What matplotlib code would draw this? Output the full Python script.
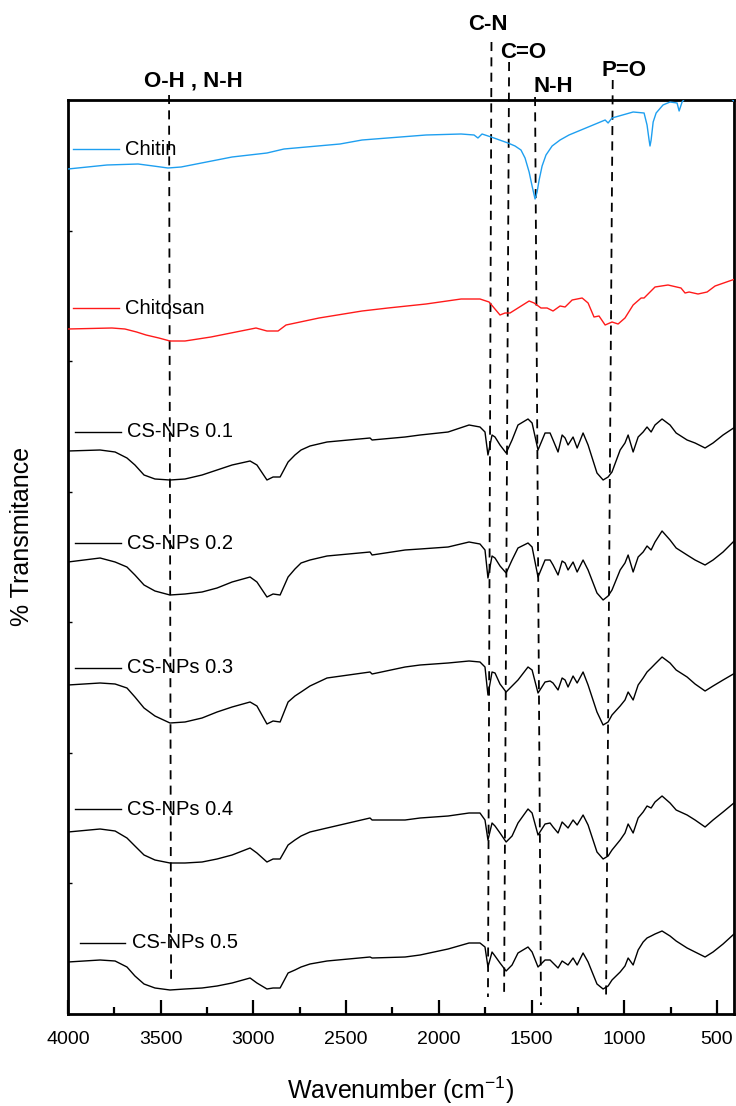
import matplotlib.pyplot as plt
from matplotlib.ticker import MultipleLocator, NullFormatter
import numpy as np

plt.rcParams['font.family'] = ['Liberation Sans', 'DejaVu Sans']
plt.rcParams['mathtext.default'] = 'regular'

# spectra (wavenumber in cm-1, stacked transmittance in a.u.)
chitin_wn = [4000, 3790, 3622, 3540, 3461, 3390, 3115, 2927, 2835, 2533, 2414, 2069, 1880, 1810,
             1789, 1767, 1718, 1627, 1589, 1557, 1535, 1513, 1497, 1481, 1470, 1459, 1443, 1422,
             1389, 1346, 1298, 1103, 1087, 1066, 952, 893, 877, 866, 861, 855, 844, 828, 791, 753,
             715, 704, 688, 645, 483, 402]
chitin_t = [845, 849, 850, 848, 846, 847, 857, 861, 865, 870, 874, 879, 880, 879,
            876, 880, 877, 871, 868, 864, 856, 842, 828, 815, 822, 834, 848, 859,
            868, 874, 879, 894, 891, 896, 902, 901, 889, 874, 868, 874, 892, 901, 909, 912,
            911, 903, 912, 922, 924, 912]

chitosan_wn = [4000, 3763, 3693, 3630, 3579, 3510, 3450, 3369, 3229, 3067, 2986, 2927, 2867, 2824,
               2646, 2414, 2274, 2069, 1880, 1778, 1729, 1670, 1643, 1616, 1513, 1486, 1449, 1416,
               1384, 1346, 1319, 1281, 1227, 1195, 1163, 1136, 1103, 1066, 1033, 996, 952, 909,
               893, 834, 764, 694, 672, 650, 602, 553, 510, 402]
chitosan_t = [685, 686, 685, 682, 679, 676, 673, 673, 677, 683, 686, 683, 683, 689,
              696, 703, 706, 710, 715, 715, 712, 699, 701, 701, 713, 711, 706, 706,
              703, 708, 707, 714, 716, 711, 697, 698, 689, 692, 690, 696, 709, 716,
              716, 727, 729, 726, 721, 722, 720, 722, 728, 735]

csnp_wn = [4000, 3827, 3746, 3682, 3639, 3590, 3531, 3450, 3369, 3277, 3196, 3115, 3018, 2981,
           2927, 2894, 2856, 2813, 2776, 2743, 2695, 2603, 2371, 2360, 2182, 2101, 1950,
           1837, 1778, 1751, 1735, 1713, 1697, 1670, 1637, 1605, 1573, 1519, 1497, 1465, 1427,
           1400, 1384, 1357, 1335, 1319, 1303, 1276, 1254, 1222, 1195, 1147, 1114, 1087, 1066,
           1022, 996, 979, 952, 925, 898, 877, 855, 834, 796, 753, 720, 661, 618, 564, 521,
           467, 402]
csnp_01 = [563, 564, 562, 556, 549, 539, 535, 534, 535, 539, 544, 549, 553, 549,
           534, 537, 537, 552, 559, 564, 568, 572, 576, 574, 577, 579, 582,
           589, 587, 582, 559, 579, 577, 569, 561, 574, 589, 595, 591, 564, 581,
           581, 574, 562, 579, 576, 569, 577, 566, 581, 569, 541, 534, 537, 542,
           564, 571, 579, 562, 577, 582, 587, 582, 589, 595, 589, 581, 574, 571, 566, 571,
           579, 587]
csnp_02 = [452, 456, 452, 447, 439, 429, 423, 419, 420, 422, 426, 432, 437, 432,
           417, 420, 419, 437, 445, 451, 454, 458, 462, 459, 464, 465, 467,
           472, 470, 464, 436, 458, 456, 448, 441, 454, 466, 471, 467, 437, 454,
           454, 449, 439, 453, 451, 444, 452, 442, 454, 444, 421, 414, 418, 424,
           444, 451, 459, 442, 457, 462, 468, 464, 472, 483, 474, 466, 459, 454, 449, 454,
           462, 474]
csnp_03 = [329, 331, 330, 326, 317, 306, 298, 291, 292, 296, 302, 307, 312, 308,
           290, 293, 292, 312, 318, 322, 328, 336, 342, 340, 347, 349, 351,
           353, 352, 347, 319, 342, 341, 330, 322, 328, 334, 347, 344, 321, 332,
           333, 331, 324, 336, 334, 327, 338, 331, 342, 329, 302, 289, 292, 299,
           308, 314, 322, 314, 329, 336, 342, 346, 350, 357, 351, 344, 337, 330, 323, 328,
           334, 341]
csnp_04 = [182, 185, 183, 176, 168, 159, 154, 151, 151, 152, 155, 159, 166, 161,
           152, 155, 155, 169, 174, 178, 182, 186, 196, 194, 194, 196, 198,
           201, 201, 194, 174, 191, 188, 181, 172, 178, 191, 205, 201, 179, 190,
           191, 187, 181, 192, 189, 186, 194, 189, 199, 189, 162, 155, 158, 164,
           174, 181, 190, 181, 196, 202, 208, 206, 212, 218, 211, 204, 199, 194, 187, 194,
           202, 212]
csnp_05 = [52, 54, 53, 47, 38, 30, 26, 24, 25, 26, 28, 31, 36, 31,
           25, 26, 26, 41, 44, 47, 50, 53, 57, 56, 57, 59, 65,
           71, 71, 67, 47, 62, 58, 51, 43, 49, 61, 67, 62, 47, 54,
           54, 51, 46, 53, 51, 49, 56, 49, 61, 52, 30, 25, 28, 34,
           42, 48, 56, 49, 64, 72, 76, 78, 80, 83, 78, 73, 66, 62, 57, 62,
           70, 81]

# band markers
band_names = ['O-H , N-H', 'C-N', 'C=O', 'N-H', 'P=O']
band_top_wn = [3455, 1716, 1621, 1481, 1062]
band_bot_wn = [3444, 1735, 1648, 1449, 1098]
band_top_t = [919, 972, 952, 917, 934]
band_bot_t = [32, 17, 16, 9, 17]
band_label_wn = [3323, 1737, 1546, 1384, 1001]
band_label_t = [933, 989, 962, 927, 944]

names = ['Chitin', 'Chitosan', 'CS-NPs 0.1', 'CS-NPs 0.2', 'CS-NPs 0.3', 'CS-NPs 0.4', 'CS-NPs 0.5']
xs = [chitin_wn, chitosan_wn, csnp_wn, csnp_wn, csnp_wn, csnp_wn, csnp_wn]
ys = [chitin_t, chitosan_t, csnp_01, csnp_02, csnp_03, csnp_04, csnp_05]
colors = ['#1e9ff0', '#ff1a1a', 'black', 'black', 'black', 'black', 'black']
legend_y = [0.946, 0.772, 0.637, 0.515, 0.379, 0.224, 0.078]
legend_x = [0.008, 0.008, 0.011, 0.011, 0.011, 0.011, 0.018]

fig = plt.figure(figsize=(7.36, 11.06), dpi=100)
ax = fig.add_axes([68 / 736, 92 / 1106, 666 / 736, 914 / 1106])

for wn, t, c in zip(xs, ys, colors):
    ax.plot(wn, t, color=c, lw=1.0, zorder=3)

for i in range(len(band_names)):
    ax.plot([band_top_wn[i], band_bot_wn[i]], [band_top_t[i], band_bot_t[i]],
            color='black', lw=1.3, ls=(0, (5, 3.5)), clip_on=False, zorder=2)
    ax.text(band_label_wn[i], band_label_t[i], band_names[i], fontsize=16,
            fontweight='bold', ha='center', va='center', clip_on=False)

for name, c, x0, yy in zip(names, colors, legend_x, legend_y):
    ax.plot([x0, x0 + 0.068], [yy, yy], color=c, lw=1.0, transform=ax.transAxes)
    ax.text(x0 + 0.078, yy, name, fontsize=14.5, va='center', ha='left',
            transform=ax.transAxes)

ax.set_xlim(4000, 408)
ax.set_ylim(0, 914)
ax.set_xticks(np.arange(4000, 499, -500))
ax.xaxis.set_minor_locator(MultipleLocator(250))
ax.set_yticks(np.linspace(0, 914, 8)[1:-1])
ax.yaxis.set_major_formatter(NullFormatter())
ax.tick_params(axis='x', which='major', direction='in', length=10, width=1.6,
               labelsize=14, pad=12)
ax.tick_params(axis='x', which='minor', direction='in', length=5, width=1.6)
ax.tick_params(axis='y', which='major', direction='in', length=3, width=1)
for s in ax.spines.values():
    s.set_linewidth(2)

fig.text(401 / 736, 1 - 1090 / 1106, 'Wavenumber (cm$^{-1}$)', fontsize=18,
         ha='center', va='center')
fig.text(22 / 736, 1 - 536 / 1106, '% Transmitance', fontsize=18, rotation=90,
         ha='center', va='center')

fig.savefig('out.png', dpi=100)
